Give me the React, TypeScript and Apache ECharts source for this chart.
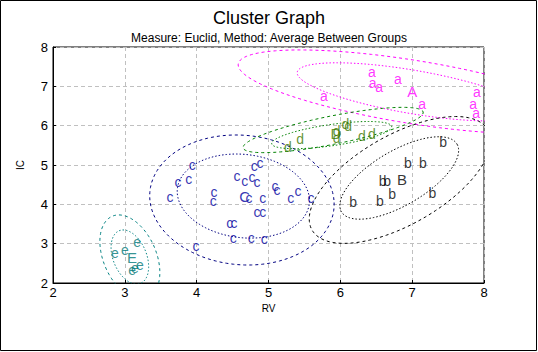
import React, { useEffect, useRef } from "react";
import * as echarts from "echarts";

// Tick values
const xTicks = [2, 3, 4, 5, 6, 7, 8];
const yTicks = [2, 3, 4, 5, 6, 7, 8];

// Cluster a (magenta)
const aX = [5.77, 6.44, 6.45, 6.54, 6.8, 7.14, 7.9, 7.85, 7.89];
const aY = [6.75, 7.36, 7.09, 6.98, 7.19, 6.55, 6.86, 6.55, 6.32];
// Cluster b (black)
const bX = [7.43, 6.94, 7.15, 6.59, 6.65, 6.72, 6.18, 6.55, 7.28];
const bY = [5.58, 5.05, 5.05, 4.59, 4.59, 4.26, 4.06, 4.08, 4.29];
// Cluster c (navy)
const cX = [3.94, 3.74, 3.89, 3.63, 4.24, 4.23, 4.56, 4.67, 4.77, 4.84, 4.8, 4.88, 4.73, 4.92, 5.09, 5.12, 5.31, 5.41, 5.59, 4.84, 4.92, 4.46, 4.52, 4.51, 4.76, 4.94, 3.99];
const cY = [5.0, 4.57, 4.64, 4.19, 4.31, 4.09, 4.72, 4.59, 4.7, 4.57, 4.98, 5.05, 4.16, 4.16, 4.47, 4.37, 4.16, 4.34, 4.16, 3.81, 3.81, 3.53, 3.53, 3.14, 3.14, 3.12, 2.94];
// Cluster d (green)
const dX = [5.27, 5.44, 5.95, 5.95, 6.07, 6.11, 6.3, 6.44];
const dY = [5.46, 5.66, 5.87, 5.69, 6.04, 5.99, 5.74, 5.79];
// Cluster e (teal)
const eX = [3.17, 2.86, 3.0, 3.21, 3.14, 3.1];
const eY = [3.04, 2.76, 2.84, 2.46, 2.38, 2.33];

// Centroids (capital letters)
const centroidLabels = ["A", "B", "C", "D", "E"];
const centroidX = [7.0, 6.86, 4.67, 5.94, 3.1];
const centroidY = [6.86, 4.62, 4.19, 5.79, 2.66];

// Ellipses: centre and two conjugate semi-axis vectors (data units)
const ellipseCluster = ["a", "a", "b", "b", "c", "c", "d", "d", "e", "e"];
const ellipseKind = ["inner", "outer", "inner", "outer", "inner", "outer", "inner", "outer", "inner", "outer"];
const ellipseCx = [7.0, 7.0, 6.82, 6.83, 4.65, 4.63, 5.88, 5.9, 3.07, 3.07];
const ellipseCy = [6.86, 6.86, 4.67, 4.62, 4.21, 4.11, 5.76, 5.89, 2.66, 2.66];
const ellipseUx = [1.601, 2.422, 0.807, 1.225, 0.919, 1.281, 0.835, 1.253, 0.111, 0.181];
const ellipseUy = [-0.483, -0.687, 0.852, 1.271, -0.051, 0, 0.203, 0.432, -0.687, -1.068];
const ellipseVx = [0, 0, 0.181, 0.306, -0.056, -0.084, 0.028, 0.042, 0.237, 0.376];
const ellipseVy = [0.559, 0.814, -0.61, -0.992, 1.068, 1.653, 0.28, 0.381, 0.051, 0.076];

const clusterColor: Record<string, string> = {
  a: "#ff00ff",
  b: "#000000",
  c: "#000080",
  d: "#008000",
  e: "#008080",
};
const letterColor: Record<string, string> = {
  a: "#ff00ff",
  b: "#000000",
  c: "#0000a0",
  d: "#3c7800",
  e: "#007878",
};

const FONT = "Liberation Sans, Arial, sans-serif";

function ellipsePoints(i: number): number[][] {
  const pts: number[][] = [];
  const n = 160;
  for (let k = 0; k <= n; k++) {
    const t = (2 * Math.PI * k) / n;
    pts.push([
      ellipseCx[i] + ellipseUx[i] * Math.cos(t) + ellipseVx[i] * Math.sin(t),
      ellipseCy[i] + ellipseUy[i] * Math.cos(t) + ellipseVy[i] * Math.sin(t),
    ]);
  }
  return pts;
}

function letterSeries(name: string, xs: number[], ys: number[], letter: string, size: number) {
  return {
    type: "scatter",
    name,
    data: xs.map((x, i) => [x, ys[i]]),
    symbolSize: 1,
    itemStyle: { color: "rgba(0,0,0,0)" },
    silent: true,
    z: 5,
    label: {
      show: true,
      position: "inside",
      formatter: letter,
      color: letterColor[letter.toLowerCase()],
      fontSize: size,
      fontFamily: FONT,
    },
  };
}

export default function App() {
  const ref = useRef<HTMLDivElement>(null);
  useEffect(() => {
    if (!ref.current) return;
    const chart = echarts.init(ref.current, undefined, { renderer: "svg" });

    const ellipseSeries = ellipseCluster.map((cl, i) => ({
      type: "line",
      data: ellipsePoints(i),
      showSymbol: false,
      symbol: "none",
      silent: true,
      clip: true,
      z: 2,
      lineStyle: {
        color: clusterColor[cl],
        width: 1,
        type: ellipseKind[i] === "inner" ? [1.5, 2] : [3, 3],
      },
    }));

    const clusters: [string, number[], number[]][] = [
      ["a", aX, aY],
      ["b", bX, bY],
      ["c", cX, cY],
      ["d", dX, dY],
      ["e", eX, eY],
    ];
    const pointSeries = clusters.map(([l, xs, ys]) => letterSeries(l, xs, ys, l, 14));
    const centroidSeries = centroidLabels.map((L, i) =>
      letterSeries(L, [centroidX[i]], [centroidY[i]], L, 15)
    );

    chart.setOption({
      animation: false,
      backgroundColor: "#ffffff",
      textStyle: { fontFamily: FONT },
      title: [
        {
          text: "Cluster Graph",
          left: "center",
          top: 4,
          textStyle: { fontSize: 18, fontWeight: "normal", color: "#000", fontFamily: FONT },
        },
        {
          text: "Measure: Euclid, Method: Average Between Groups",
          left: "center",
          top: 27,
          textStyle: { fontSize: 12, fontWeight: "normal", color: "#000", fontFamily: FONT },
        },
      ],
      graphic: [
        {
          type: "rect",
          shape: { x: 0.5, y: 0.5, width: 536, height: 350 },
          style: { fill: "none", stroke: "#000", lineWidth: 1 },
          silent: true,
        },
      ],
      grid: {
        left: 53,
        top: 47,
        width: 431,
        height: 236,
        show: true,
        borderColor: "#000",
        borderWidth: 1,
        backgroundColor: "rgba(0,0,0,0)",
      },
      xAxis: {
        type: "value",
        min: xTicks[0],
        max: xTicks[xTicks.length - 1],
        interval: 1,
        name: "RV",
        nameLocation: "middle",
        nameGap: 16,
        nameTextStyle: { fontSize: 10, color: "#000", fontFamily: FONT },
        axisLine: { show: true, lineStyle: { color: "#000", width: 1 } },
        axisTick: { show: true, inside: true, length: 3, lineStyle: { color: "#000" } },
        axisLabel: { fontSize: 13, color: "#000", margin: 3, fontFamily: FONT },
        splitLine: { show: true, lineStyle: { color: "#c0c0c0", type: [4, 3], width: 1 } },
      },
      yAxis: {
        type: "value",
        min: yTicks[0],
        max: yTicks[yTicks.length - 1],
        interval: 1,
        name: "IC",
        nameLocation: "middle",
        nameGap: 28,
        nameRotate: 90,
        nameTextStyle: { fontSize: 10, color: "#000", fontFamily: FONT },
        axisLine: { show: true, lineStyle: { color: "#000", width: 1 } },
        axisTick: { show: true, inside: true, length: 3, lineStyle: { color: "#000" } },
        axisLabel: { fontSize: 13, color: "#000", margin: 5, fontFamily: FONT },
        splitLine: { show: true, lineStyle: { color: "#c0c0c0", type: [4, 3], width: 1 } },
      },
      series: [...ellipseSeries, ...pointSeries, ...centroidSeries],
    });
    return () => chart.dispose();
  }, []);
  return (
    <div
      ref={ref}
      style={{ position: "fixed", left: 0, top: 0, width: 538, height: 352 }}
    />
  );
}
